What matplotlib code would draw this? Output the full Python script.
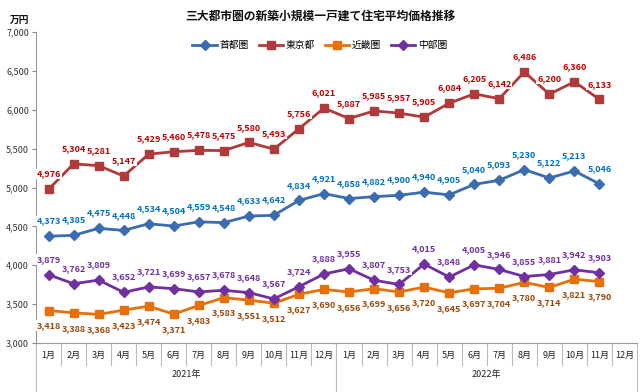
import matplotlib
matplotlib.use("Agg")
import matplotlib.pyplot as plt
from matplotlib.transforms import blended_transform_factory

plt.rcParams['font.family'] = ['Noto Sans CJK JP', 'DejaVu Sans']

months = ["1月", "2月", "3月", "4月", "5月", "6月", "7月", "8月", "9月", "10月", "11月", "12月"] * 2
years = ["2021年", "2022年"]

shutoken = [4373, 4385, 4475, 4448, 4534, 4504, 4559, 4548, 4633, 4642, 4834, 4921,
            4858, 4882, 4900, 4940, 4905, 5040, 5093, 5230, 5122, 5213, 5046]
tokyo = [4976, 5304, 5281, 5147, 5429, 5460, 5478, 5475, 5580, 5493, 5756, 6021,
         5887, 5985, 5957, 5905, 6084, 6205, 6142, 6486, 6200, 6360, 6133]
kinki = [3418, 3388, 3368, 3423, 3474, 3371, 3483, 3583, 3551, 3512, 3627, 3690,
         3656, 3699, 3656, 3720, 3645, 3697, 3704, 3780, 3714, 3821, 3790]
chubu = [3879, 3762, 3809, 3652, 3721, 3699, 3657, 3678, 3648, 3567, 3724, 3888,
         3955, 3807, 3753, 4015, 3848, 4005, 3946, 3855, 3881, 3942, 3903]

series = [
    ("首都圏", shutoken, "#3B6CB0", "#0070C0", "D", 4.6, 1),
    ("東京都", tokyo, "#B03A3A", "#C00000", "s", 5.4, 1),
    ("近畿圏", kinki, "#E8700A", "#984807", "s", 5.4, -1),
    ("中部圏", chubu, "#7030A0", "#7030A0", "D", 4.6, 1),
]

fig = plt.figure(figsize=(6.4, 3.92), dpi=100)
ax = fig.add_axes([36/640, 1-343/392, (637-36)/640, (343-32)/392])

x = list(range(len(shutoken)))
for name, vals, lc, tc, mk, ms, side in series:
    ax.plot(x, vals, color=lc, marker=mk, markersize=ms, linewidth=2.0, label=name, zorder=3)
    for xi, v in zip(x, vals):
        ax.annotate(f"{v:,}", (xi, v), xytext=(0, 11*side), textcoords="offset points",
                    ha="center", va="center", fontsize=6.5, color=tc, fontweight="bold",
                    bbox=dict(boxstyle="square,pad=0.1", fc="white", ec="none"), zorder=4)

ax.set_ylim(3000, 7000)
ax.set_xlim(-0.5, 23.5)
ax.set_yticks(range(3000, 7001, 500))
ax.set_yticklabels([f"{t:,}" for t in range(3000, 7001, 500)], fontsize=6.5, color="#333333")
ax.tick_params(axis='y', length=3, color="#888888", pad=2)
ax.set_xticks([])
for s in ["top", "right"]:
    ax.spines[s].set_visible(False)
ax.spines["left"].set_color("#999999")
ax.spines["bottom"].set_color("#999999")

trans = blended_transform_factory(ax.transData, ax.transAxes)
ax_h = (343-32)
for i, m in enumerate(months):
    ax.text(i, -12/ax_h, m, transform=trans, ha="center", va="center", fontsize=6.5, color="#222222")
for i in range(25):
    if i % 12 == 0:
        y1 = -50/ax_h
    else:
        y1 = -22/ax_h
    ax.plot([i-0.5, i-0.5], [0, y1], transform=trans, color="#BBBBBB", lw=0.8, clip_on=False)
for j, yr in enumerate(years):
    ax.text(j*12+5.5, -32/ax_h, yr, transform=trans, ha="center", va="center", fontsize=6.5, color="#222222")

fig.text(320/640, 1-16/392, "三大都市圏の新築小規模一戸建て住宅平均価格推移", ha="center", va="center",
         fontsize=8.5, fontweight="bold", color="#111111")
fig.text(20/640, 1-20/392, "万円", ha="center", va="center", fontsize=7, fontweight="bold", color="#111111")

leg = fig.legend(loc="center", bbox_to_anchor=(320/640, 1-45/392), ncol=4, frameon=False,
                 fontsize=7, handlelength=2.5, columnspacing=1.0, handletextpad=0.3)

fig.savefig("out.png", dpi=100)
